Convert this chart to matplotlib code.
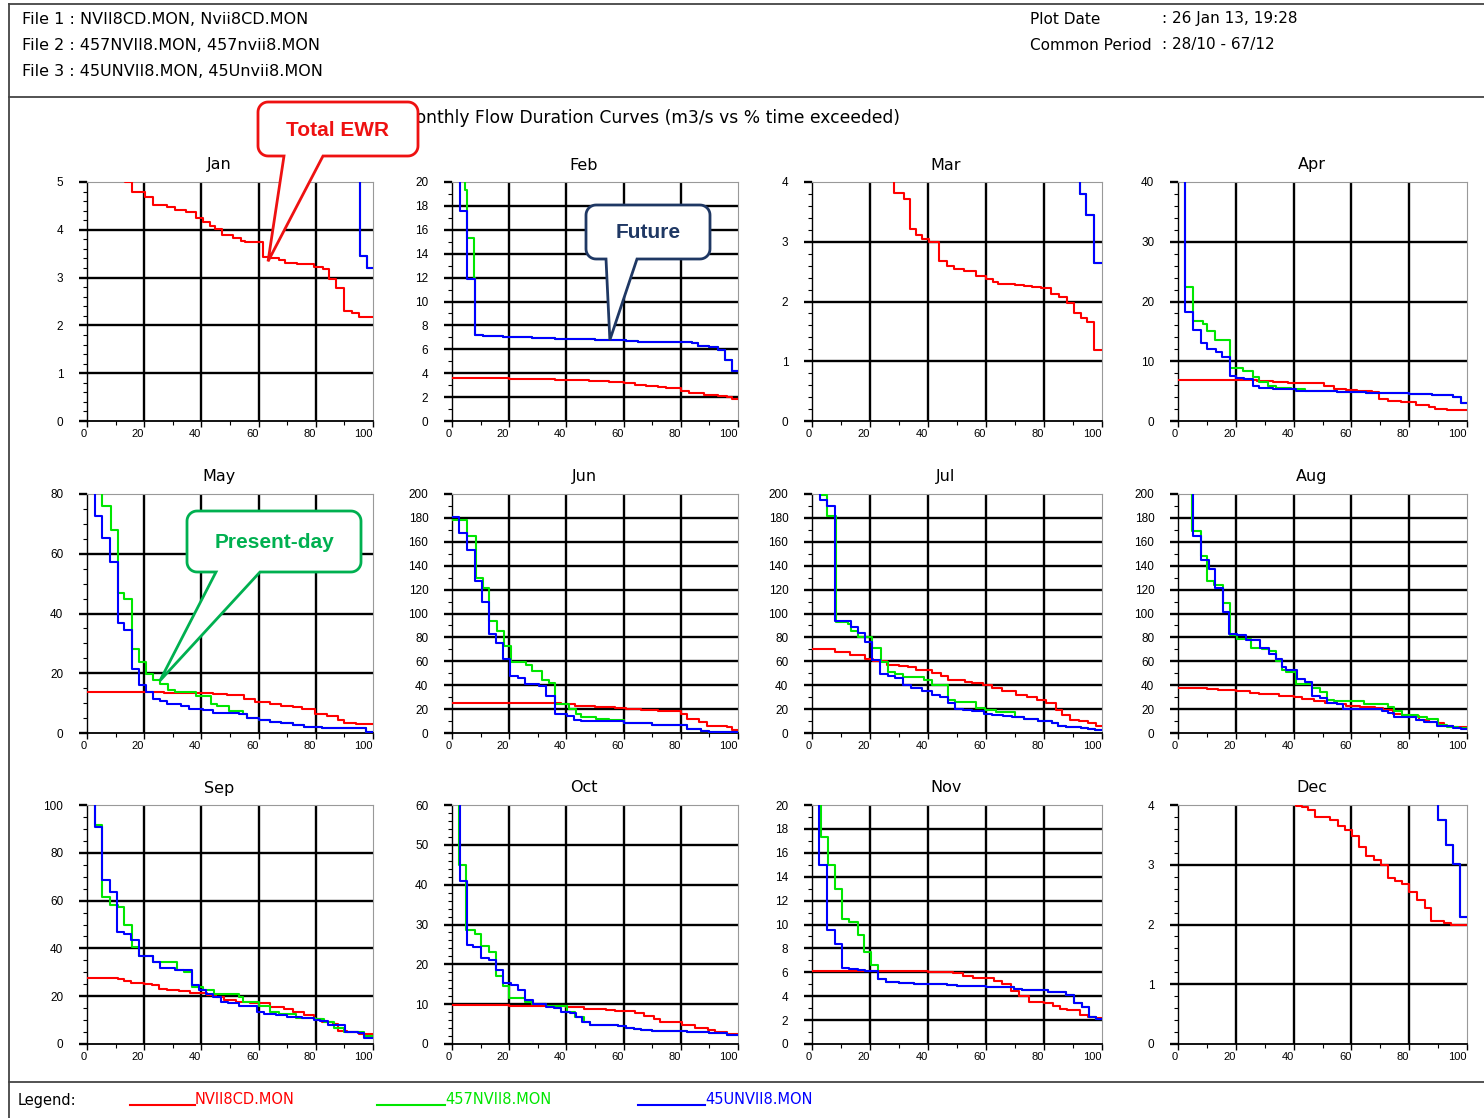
import numpy as np
import matplotlib
matplotlib.use("Agg")
import matplotlib.pyplot as plt
from matplotlib.patches import Polygon
from matplotlib.lines import Line2D
from matplotlib.transforms import IdentityTransform
from matplotlib.ticker import MultipleLocator, FuncFormatter

# Figure size in pixels
W, H = 1484, 1118

months = ["Jan", "Feb", "Mar", "Apr", "May", "Jun",
          "Jul", "Aug", "Sep", "Oct", "Nov", "Dec"]
y_max = [5, 20, 4, 40, 80, 200, 200, 200, 100, 60, 20, 4]
y_major = [1, 2, 1, 10, 20, 20, 20, 20, 20, 10, 2, 1]
y_minor = [0.2, 1, 0.2, 2, 5, 10, 10, 10, 5, 2, 1, 0.2]

file_names = ["NVII8CD.MON", "457NVII8.MON", "45UNVII8.MON"]

# Step curves: x = % time exceeded where each step starts, y = flow (m3/s)
# EWR = red (File 1), PRES = green (File 2), FUT = blue (File 3)
jan_ewr_x = [0, 13.2, 15.7, 20.3, 23.1, 28.1, 30.9, 34.7, 38.0, 40.5, 43.0, 44.6, 47.1, 51.2,
             53.7, 55.4, 61.5, 64.5, 67.3, 69.4, 73.6, 79.3, 82.6, 84.6, 87.1, 89.8, 92.6, 95.0]
jan_ewr_y = [7.5, 4.99, 4.8, 4.69, 4.52, 4.48, 4.41, 4.38, 4.25, 4.16, 4.07, 4.02, 3.9, 3.82,
             3.77, 3.75, 3.43, 3.4, 3.36, 3.31, 3.28, 3.22, 3.17, 2.97, 2.78, 2.3, 2.26, 2.17]
jan_pres_x = [0, 30, 60, 85, 95.3, 97.8]
jan_pres_y = [60, 15, 9, 6, 3.45, 3.2]
jan_fut_x = [0, 30, 60, 85, 95.3, 97.8]
jan_fut_y = [60, 15, 9, 6, 3.45, 3.2]

feb_ewr_x = [0, 20, 30, 36, 40, 48, 55, 60, 64, 68, 72, 75, 80, 83, 88, 93, 96, 98]
feb_ewr_y = [3.58, 3.55, 3.5, 3.45, 3.4, 3.35, 3.3, 3.22, 3.0, 2.92, 2.82, 2.75, 2.55, 2.35,
             2.2, 2.1, 2.0, 1.8]
feb_pres_x = [0, 4.5, 5.3, 7.6, 8.1, 11, 18, 28, 36, 43, 50, 55, 61, 65, 80, 84, 86, 90, 93,
              95.5, 98]
feb_pres_y = [32, 19.3, 15.3, 12.0, 7.2, 7.1, 7.0, 6.95, 6.9, 6.85, 6.8, 6.75, 6.7, 6.65, 6.6,
              6.5, 6.3, 6.2, 5.9, 5.1, 4.2]
feb_fut_x = [0, 2.8, 5.3, 8.1, 11, 18, 28, 36, 43, 50, 55, 61, 65, 80, 84, 86, 90, 93, 95.5, 98]
feb_fut_y = [35, 17.6, 11.9, 7.2, 7.1, 7.0, 6.95, 6.9, 6.85, 6.8, 6.75, 6.7, 6.65, 6.6, 6.5,
             6.3, 6.2, 5.9, 5.1, 4.2]

mar_ewr_x = [0, 28.4, 31.7, 33.8, 35.7, 38.0, 40.5, 43.8, 46.5, 48.8, 52.3, 56.7, 60.0, 62.4,
             64.3, 70.0, 73.0, 76.0, 79.0, 82.3, 85.0, 87.9, 90.4, 92.6, 94.7, 97.3]
mar_ewr_y = [5.5, 3.82, 3.72, 3.22, 3.12, 3.05, 3.0, 2.67, 2.6, 2.54, 2.51, 2.42, 2.38, 2.33,
             2.3, 2.28, 2.26, 2.24, 2.22, 2.12, 2.08, 1.98, 1.81, 1.72, 1.65, 1.18]
mar_pres_x = [0, 60, 92.5, 94.5, 97.3]
mar_pres_y = [30, 6, 3.8, 3.45, 2.65]
mar_fut_x = [0, 60, 92.5, 94.5, 97.3]
mar_fut_y = [30, 6, 3.8, 3.45, 2.65]

apr_ewr_x = [0, 27.5, 33, 38, 47, 50.5, 54, 58, 62, 67, 69.5, 72.5, 77, 82.3, 86.7, 89, 93]
apr_ewr_y = [6.8, 6.7, 6.6, 6.4, 6.3, 5.8, 5.4, 5.2, 5.0, 4.8, 3.7, 3.4, 3.2, 2.7, 2.4, 2.0, 1.8]
apr_pres_x = [0, 2.5, 5.3, 8.5, 10.2, 12.8, 18.1, 22.6, 25.9, 28.2, 31.2, 34, 39, 44, 50, 55,
              60, 65, 80, 81.9, 87.9, 95.3, 97.9]
apr_pres_y = [150, 22.4, 16.8, 16.3, 15.1, 13.6, 8.8, 8.3, 7.3, 6.6, 5.9, 5.5, 5.3, 5.1, 5.0,
              4.9, 4.8, 4.7, 4.6, 4.5, 4.3, 4.0, 3.0]
apr_fut_x = [0, 2.5, 5.3, 7.8, 10.2, 13.1, 15.3, 17.9, 19.9, 22.9, 25.9, 28.2, 33, 39, 41, 50,
             55, 60, 65, 80, 81.9, 87.9, 95.3, 97.9]
apr_fut_y = [150, 18.2, 15.3, 13.0, 12.0, 11.6, 10.7, 7.5, 7.2, 7.0, 5.9, 5.6, 5.4, 5.3, 5.1,
             5.0, 4.9, 4.8, 4.7, 4.6, 4.5, 4.3, 4.0, 3.0]

may_ewr_x = [0, 27, 38, 44, 49, 55, 58.7, 64, 68, 72, 75.3, 79.8, 84, 87.6, 89.8, 94]
may_ewr_y = [13.7, 13.5, 13.3, 13.0, 12.8, 11.5, 10.3, 9.6, 9.2, 8.7, 8.0, 6.5, 5.6, 4.5, 3.3, 3.0]
may_pres_x = [0, 5.3, 8.3, 10.7, 13.1, 15.7, 18.2, 20.7, 23.1, 25.6, 28.2, 30.7, 38, 43.4,
              45.5, 49.7, 54.6, 56, 60, 64, 67.8, 72, 76, 82, 90, 97.5]
may_pres_y = [120, 76, 68, 47, 45, 28, 23.7, 19.7, 17.7, 16.5, 14.4, 13.8, 12.5, 9.8, 9.0, 7.5,
              6.2, 5.0, 4.5, 3.8, 3.5, 2.8, 2.0, 1.8, 1.7, 0.3]
may_fut_x = [0, 2.8, 5.3, 7.9, 10.7, 13.1, 15.7, 18.2, 20.7, 23.1, 25.6, 28, 33, 35.7, 40.5, 44,
             50, 53, 56, 60, 64, 67.8, 72, 76, 82, 90, 97.5]
may_fut_y = [120, 72.5, 65.4, 57.2, 36.8, 34.4, 21.3, 16.0, 13.7, 11.4, 10.8, 9.6, 9.0, 8.1,
             7.7, 6.8, 6.6, 6.2, 5.0, 4.5, 3.8, 3.5, 2.8, 2.0, 1.8, 1.7, 0.3]

jun_ewr_x = [0, 38, 43, 50, 57, 61, 66, 72, 80, 82, 86.5, 89, 92, 96, 98]
jun_ewr_y = [25, 24, 23, 22, 21, 20, 19, 18, 16, 12, 9, 6, 5.5, 5, 2.5]
jun_pres_x = [0, 5.3, 8.3, 10.7, 12.9, 15.6, 18.2, 20.5, 25.8, 28, 31.5, 34, 35.9, 40.8, 43.5,
              45, 50.5, 55, 60, 70, 82, 87, 90]
jun_pres_y = [178, 164.5, 130, 121, 94, 85, 73, 59, 57, 52, 44, 42, 24, 20.5, 16, 13, 12, 10.5,
              8.5, 6.5, 3.5, 2.0, 1.0]
jun_fut_x = [0, 2.5, 5.3, 7.9, 10.4, 12.9, 15.4, 17.9, 20.4, 23.0, 25.6, 30.5, 33, 35.9, 40.2,
             42.5, 45, 55, 60, 70, 82, 87, 90]
jun_fut_y = [181, 167, 153, 127, 110, 83, 75, 62, 48, 46, 41, 39.5, 31, 16, 14, 11, 10, 9.8,
             8.5, 6.5, 3.5, 2.0, 1.0]

jul_ewr_x = [0, 8, 13, 18.3, 20.9, 26, 30, 33, 36, 41.3, 44.6, 47, 52.6, 55, 59, 62, 65.6, 70.3,
             74, 77.5, 80.6, 84, 86.2, 88.9, 92, 95, 98]
jul_ewr_y = [70, 67.5, 65, 62, 60, 57, 56, 55, 52.5, 50, 48, 44.5, 43, 41.5, 40, 38, 35, 32, 30,
             27.5, 25, 19, 15, 11, 10, 8, 6]
jul_pres_x = [0, 2.8, 5.3, 8.3, 12.3, 13.3, 15.9, 20.6, 23.8, 26.2, 28.5, 31.5, 38.6, 41.3,
              46.8, 49.4, 56.5, 59.8, 63.5, 70, 73, 77.8, 82.6, 84.8, 87.7, 92.6, 95, 97.6]
jul_pres_y = [230, 199.5, 182, 93, 91, 85, 80, 71.5, 59, 51, 49, 46.5, 44, 40.5, 28, 26, 21,
              19.5, 17.5, 13, 12, 10, 8, 6, 5, 4.5, 3.5, 2.8]
jul_fut_x = [0, 2.8, 5.3, 8.1, 13.3, 15.9, 18.2, 20.6, 23.4, 26.2, 28.5, 31.5, 34, 38, 41.3,
             44, 46.8, 49.2, 52, 55, 59.3, 62, 66, 69, 73, 77.8, 82.6, 84.8, 87.7, 92.6, 95, 97.6]
jul_fut_y = [260, 195, 190, 93.5, 89, 83.5, 76, 61, 49, 47.5, 46, 40, 38, 35, 32, 30, 25, 20,
             19, 18.5, 15.5, 15, 14, 13, 12, 10, 8, 6, 5, 4.5, 3.5, 2.8]

aug_ewr_x = [0, 10, 14, 20, 25, 28, 35, 40, 43, 47, 51, 55, 58, 63, 68, 71, 74.3, 77.5, 80,
             83.4, 87, 89.5, 92, 95]
aug_ewr_y = [38, 37, 36, 35, 33.5, 32.5, 31, 30, 28.5, 27, 25.5, 24.5, 23, 22, 21, 19, 16, 15,
             14, 11, 9.5, 8.5, 6, 5]
aug_pres_x = [0, 5.0, 7.8, 10.0, 12.3, 15.4, 17.9, 20.3, 25.4, 28.9, 31.5, 33.9, 35.9, 37.3,
              41, 46.5, 49, 51.5, 54, 57, 64.5, 72.5, 74.7, 77.5, 83, 86, 89.9, 93, 97]
aug_pres_y = [260, 169, 148, 127, 124, 109, 82, 79, 71, 70.5, 69, 60, 53, 51, 41, 38, 34, 28,
              27, 26.5, 24, 21.5, 18, 15, 13, 12, 7, 5, 4]
aug_fut_x = [0, 5.3, 8.0, 10.6, 12.8, 15.4, 17.8, 20.5, 23.6, 28.5, 31.5, 33.9, 35.9, 37.3,
             41.2, 44, 46.5, 49.2, 51.6, 55, 57, 60, 70.6, 72.5, 74.9, 78, 82.3, 85, 89.7, 95, 98]
aug_fut_y = [260, 165, 145, 137, 121, 101, 83, 82, 77.5, 71, 66.5, 62, 55, 53, 45, 43, 31, 29,
             25.5, 24, 20.5, 20, 18, 16.5, 13.5, 13, 10.5, 9.5, 5.5, 4.5, 3.5]

sep_ewr_x = [0, 10.8, 13, 15.5, 20, 22.7, 25, 28, 32, 36, 42, 45, 48, 52, 57, 64, 69, 72, 76,
             79.3, 82, 86, 87.8, 91, 95]
sep_ewr_y = [27.5, 27, 26.5, 25.5, 25, 24.5, 23, 22.5, 22, 21.5, 20.5, 19.5, 18.5, 17.5, 17,
             15.5, 14.5, 13.5, 12, 10.5, 9, 8.5, 5.5, 5, 4]
sep_pres_x = [0, 2.8, 5.3, 7.9, 10.7, 13.1, 15.9, 18.1, 23, 31.6, 33.8, 36.6, 40.6, 44.3, 53.2,
              54.7, 60, 64, 67, 73, 79.8, 83, 86.5, 89.9, 97]
sep_pres_y = [130, 91.5, 61.5, 58, 57.5, 50, 40.5, 37, 34.5, 31, 30, 24, 22.5, 20.8, 19.8, 17.5,
              16, 13.5, 12.5, 11, 10.5, 9, 6.5, 5, 3.5]
sep_fut_x = [0, 2.8, 5.3, 7.9, 10.4, 12.9, 15.5, 18.1, 23.1, 25.6, 30.6, 36.8, 39.3, 41.5, 44,
             46.8, 49.3, 53, 59.3, 62, 66, 70, 75, 79.3, 81.6, 84.3, 90.2, 94.7, 97]
sep_fut_y = [130, 91, 68.5, 63.5, 47, 46, 43.5, 37, 34.5, 32, 31, 24.5, 22.5, 21, 19.5, 17.5,
             17.2, 16, 13.5, 12.5, 12, 11.5, 11, 10, 9.5, 8, 5, 4.5, 2.5]

oct_ewr_x = [0, 20, 35, 40, 46, 54, 57, 64, 67, 70.8, 72.8, 80.4, 85, 89.6, 92, 96]
oct_ewr_y = [9.8, 9.6, 9.5, 9.2, 8.9, 8.6, 8.3, 7.7, 7.0, 6.2, 5.6, 4.8, 4.0, 3.4, 3.0, 2.5]
oct_pres_x = [0, 2.5, 5.0, 8.0, 10.2, 12.9, 15.3, 17.9, 20.0, 25.6, 28, 33, 40.3, 43, 46, 48.3,
              53, 58, 61, 63.5, 66, 70, 78, 82, 90, 96]
oct_pres_y = [90, 45, 28.5, 27.5, 24.5, 23, 17, 14.5, 11.5, 10.5, 10, 9.5, 8, 6.8, 5.5, 4.8,
              4.7, 4.5, 4.0, 3.8, 3.5, 3.3, 3.2, 3.0, 2.8, 2.3]
oct_fut_x = [0, 2.8, 5.3, 7.4, 10.1, 12.9, 15.3, 17.9, 20.5, 23.0, 25.6, 28.2, 33.0, 35.5, 38,
             41.3, 43.5, 45.5, 48.3, 53, 58, 61, 63.5, 66, 70, 78, 82, 90, 96]
oct_fut_y = [90, 41, 24.8, 24.3, 21.5, 21.2, 18.5, 15.3, 14.7, 13.5, 11, 10, 9.2, 9.0, 8.0, 7.8,
             6.8, 5.5, 4.8, 4.7, 4.5, 4.0, 3.8, 3.5, 3.3, 3.2, 3.0, 2.8, 2.3]

nov_ewr_x = [0, 40, 48.5, 52, 55.5, 62.6, 65.5, 68.7, 71.4, 74.9, 80, 83, 85.5, 88, 92.5, 95, 98]
nov_ewr_y = [6.1, 6.0, 5.9, 5.7, 5.5, 5.3, 5.05, 4.4, 4.0, 3.5, 3.4, 3.2, 2.95, 2.85, 2.4, 2.3, 2.2]
nov_pres_x = [0, 3.0, 5.5, 7.9, 10.4, 12.9, 15.7, 17.9, 20.5, 22.9, 25.5, 30, 35, 46.7, 50, 60,
              69.5, 72.3, 81.5, 87.7, 90.4, 93.2, 95.5, 98]
nov_pres_y = [40, 17.3, 15, 13, 10.5, 10.2, 9.1, 7.7, 6.6, 5.4, 5.15, 5.1, 5.0, 4.9, 4.85, 4.75,
              4.6, 4.5, 4.35, 4.1, 3.4, 3.1, 2.3, 2.1]
nov_fut_x = [0, 2.5, 5.3, 7.9, 10.4, 12.9, 15.7, 18.4, 22.9, 25.5, 30, 35, 46.7, 50, 60, 69.5,
             72.3, 81.5, 87.7, 90.4, 93.2, 95.5, 98]
nov_fut_y = [40, 15, 9.5, 8.4, 6.4, 6.3, 6.2, 6.1, 5.4, 5.15, 5.1, 5.0, 4.9, 4.85, 4.75, 4.6,
             4.5, 4.35, 4.1, 3.4, 3.1, 2.3, 2.1]

dec_ewr_x = [0, 40.7, 43, 45, 47.5, 52.5, 55.2, 57.9, 60.3, 62.6, 65, 67.8, 70.2, 72.6, 75.1,
             77.4, 80, 82.7, 85.5, 87.7, 92.2, 94.6]
dec_ewr_y = [6, 3.99, 3.97, 3.92, 3.8, 3.75, 3.65, 3.58, 3.48, 3.3, 3.15, 3.08, 3.0, 2.78, 2.72,
             2.68, 2.55, 2.41, 2.27, 2.06, 2.03, 1.99]
dec_pres_x = [0, 60, 89.9, 92.7, 95.0, 97.7]
dec_pres_y = [30, 6, 3.75, 3.33, 3.02, 2.13]
dec_fut_x = [0, 60, 89.9, 92.7, 95.0, 97.7]
dec_fut_y = [30, 6, 3.75, 3.33, 3.02, 2.13]

month_data = [
    (jan_ewr_x, jan_ewr_y, jan_pres_x, jan_pres_y, jan_fut_x, jan_fut_y),
    (feb_ewr_x, feb_ewr_y, feb_pres_x, feb_pres_y, feb_fut_x, feb_fut_y),
    (mar_ewr_x, mar_ewr_y, mar_pres_x, mar_pres_y, mar_fut_x, mar_fut_y),
    (apr_ewr_x, apr_ewr_y, apr_pres_x, apr_pres_y, apr_fut_x, apr_fut_y),
    (may_ewr_x, may_ewr_y, may_pres_x, may_pres_y, may_fut_x, may_fut_y),
    (jun_ewr_x, jun_ewr_y, jun_pres_x, jun_pres_y, jun_fut_x, jun_fut_y),
    (jul_ewr_x, jul_ewr_y, jul_pres_x, jul_pres_y, jul_fut_x, jul_fut_y),
    (aug_ewr_x, aug_ewr_y, aug_pres_x, aug_pres_y, aug_fut_x, aug_fut_y),
    (sep_ewr_x, sep_ewr_y, sep_pres_x, sep_pres_y, sep_fut_x, sep_fut_y),
    (oct_ewr_x, oct_ewr_y, oct_pres_x, oct_pres_y, oct_fut_x, oct_fut_y),
    (nov_ewr_x, nov_ewr_y, nov_pres_x, nov_pres_y, nov_fut_x, nov_fut_y),
    (dec_ewr_x, dec_ewr_y, dec_pres_x, dec_pres_y, dec_fut_x, dec_fut_y),
]

RED, GREEN, BLUE = "#ff0000", "#00e600", "#0000ff"

plt.rcParams['font.family'] = ['Liberation Sans', 'DejaVu Sans']
WIDE = ['DejaVu Sans']   # wider face for the report header / legend text

# Layout in pixels (top-left origin)
col_left = [87, 452, 812, 1178]
col_w = [286, 286, 290, 289]
row_top = [182, 494, 805]
row_h = 239


def fx(x):
    return x / W


def fy(y):
    return 1 - y / H


fig = plt.figure(figsize=(W / 100, H / 100), dpi=100)
fig.patch.set_facecolor("white")

axes = []
for i, name in enumerate(months):
    r, c = divmod(i, 4)
    ax = fig.add_axes([fx(col_left[c]), fy(row_top[r] + row_h), col_w[c] / W, row_h / H])
    axes.append(ax)
    ex, ey, px_, py_, fx_, fy_ = month_data[i]
    for xs, ys, col, z in [(ex, ey, RED, 3), (px_, py_, GREEN, 4), (fx_, fy_, BLUE, 5)]:
        ax.step(list(xs) + [100], list(ys) + [ys[-1]], where="post",
                color=col, lw=1.5, zorder=z)

    ymax = y_max[i]
    ax.set_xlim(0, 100)
    ax.set_ylim(0, ymax)
    yt = np.arange(0, ymax + y_major[i] * 0.01, y_major[i])
    ax.set_yticks(yt)
    ax.yaxis.set_minor_locator(MultipleLocator(y_minor[i]))
    ax.set_xticks(np.arange(0, 101, 20))
    ax.xaxis.set_minor_locator(MultipleLocator(10))
    ax.yaxis.set_major_formatter(FuncFormatter(lambda v, p: f"{v:g}"))

    # interior grid lines only (frame top/right stays thin)
    for v in yt[1:-1]:
        ax.axhline(v, color="black", lw=1.7, zorder=1)
    for v in [20, 40, 60, 80]:
        ax.axvline(v, color="black", lw=1.7, zorder=1)

    for side in ["top", "right"]:
        ax.spines[side].set_color("#999999")
        ax.spines[side].set_linewidth(0.8)
    ax.spines["left"].set_linewidth(1.0)
    ax.spines["bottom"].set_linewidth(1.3)

    ax.tick_params(axis="y", which="major", direction="out", length=6, width=1.7,
                   labelsize=8.5, pad=11)
    ax.tick_params(axis="y", which="minor", direction="out", length=3, width=0.8)
    ax.tick_params(axis="x", which="major", direction="out", length=4, width=1.0,
                   labelsize=8, pad=1.5)
    ax.tick_params(axis="x", which="minor", direction="out", length=3, width=0.8)
    for lab in ax.get_xticklabels():
        lab.set_horizontalalignment("right")
    ax.text(0.5 - 11 / col_w[c], 1 + 17 / row_h, name, transform=ax.transAxes,
            ha="center", va="center", fontsize=11.5, family=WIDE)

# Header and page frame
frame_col = "#444444"
for (x0, y0, x1, y1) in [(9, 4, 1484, 4), (9, 4, 9, 1118), (9, 97, 1484, 97),
                         (9, 1082, 1484, 1082)]:
    fig.add_artist(Line2D([fx(x0), fx(x1)], [fy(y0), fy(y1)], color=frame_col, lw=1.3,
                          transform=fig.transFigure))

header = ["File 1 : NVII8CD.MON, Nvii8CD.MON",
          "File 2 : 457NVII8.MON, 457nvii8.MON",
          "File 3 : 45UNVII8.MON, 45Unvii8.MON"]
for k, line in enumerate(header):
    fig.text(fx(22), fy([19, 45, 72][k]), line, fontsize=11.5, va="center", ha="left",
             family=WIDE)
fig.text(fx(1030), fy(19), "Plot Date", fontsize=11, va="center", family=WIDE)
fig.text(fx(1162), fy(19), ": 26 Jan 13, 19:28", fontsize=11, va="center", family=WIDE)
fig.text(fx(1030), fy(45), "Common Period", fontsize=11, va="center", family=WIDE)
fig.text(fx(1162), fy(45), ": 28/10 - 67/12", fontsize=11, va="center", family=WIDE)

fig.text(fx(900), fy(118), "Monthly Flow Duration Curves (m3/s vs % time exceeded)",
         fontsize=12.3, va="center", ha="right", family=WIDE)

# Legend strip
fig.text(fx(18), fy(1100), "Legend:", fontsize=10.5, va="center", family=WIDE)
for (x0, x1, col, lab) in [(130, 195, RED, file_names[0]), (377, 445, GREEN, file_names[1]),
                           (638, 705, BLUE, file_names[2])]:
    fig.add_artist(Line2D([fx(x0), fx(x1)], [fy(1105), fy(1105)], color=col, lw=1.5,
                          transform=fig.transFigure))
    fig.text(fx(x1), fy(1100), lab, color=col, fontsize=10.5, va="center", ha="left",
             family=WIDE)


def callout(box, base, tip_ax, tip_xy, color, text, r=10):
    # rounded box with a wedge pointing at a data point, display coords
    x0, y0, x1, y1 = box
    top, bot = H - y0, H - y1
    tip = tip_ax.transData.transform(tip_xy)
    pts = []

    def arc(cx, cy, a0, a1):
        for a in np.linspace(a0, a1, 10):
            pts.append((cx + r * np.cos(a), cy + r * np.sin(a)))

    arc(x0 + r, top - r, np.pi, np.pi / 2)
    arc(x1 - r, top - r, np.pi / 2, 0)
    arc(x1 - r, bot + r, 0, -np.pi / 2)
    pts.append((base[1], bot))
    pts.append((tip[0], tip[1]))
    pts.append((base[0], bot))
    arc(x0 + r, bot + r, -np.pi / 2, -np.pi)
    poly = Polygon(pts, closed=True, facecolor="white", edgecolor=color, lw=2.0,
                   transform=IdentityTransform(), zorder=10)
    fig.add_artist(poly)
    fig.text(fx((x0 + x1) / 2), fy((y0 + y1) / 2 + 1), text, color=color, fontsize=15,
             fontweight="bold", ha="center", va="center", zorder=11)


callout((258, 102, 418, 156), (284, 323), axes[0], (63.3, 3.34), "#ee1111", "Total EWR")
callout((586, 205, 710, 259), (606, 637), axes[1], (55.2, 6.78), "#1f3864", "Future")
callout((187, 511, 361, 572), (216, 260), axes[4], (25.5, 17.5), "#00b050", "Present-day")

fig.savefig("out.png", dpi=100, facecolor="white")
